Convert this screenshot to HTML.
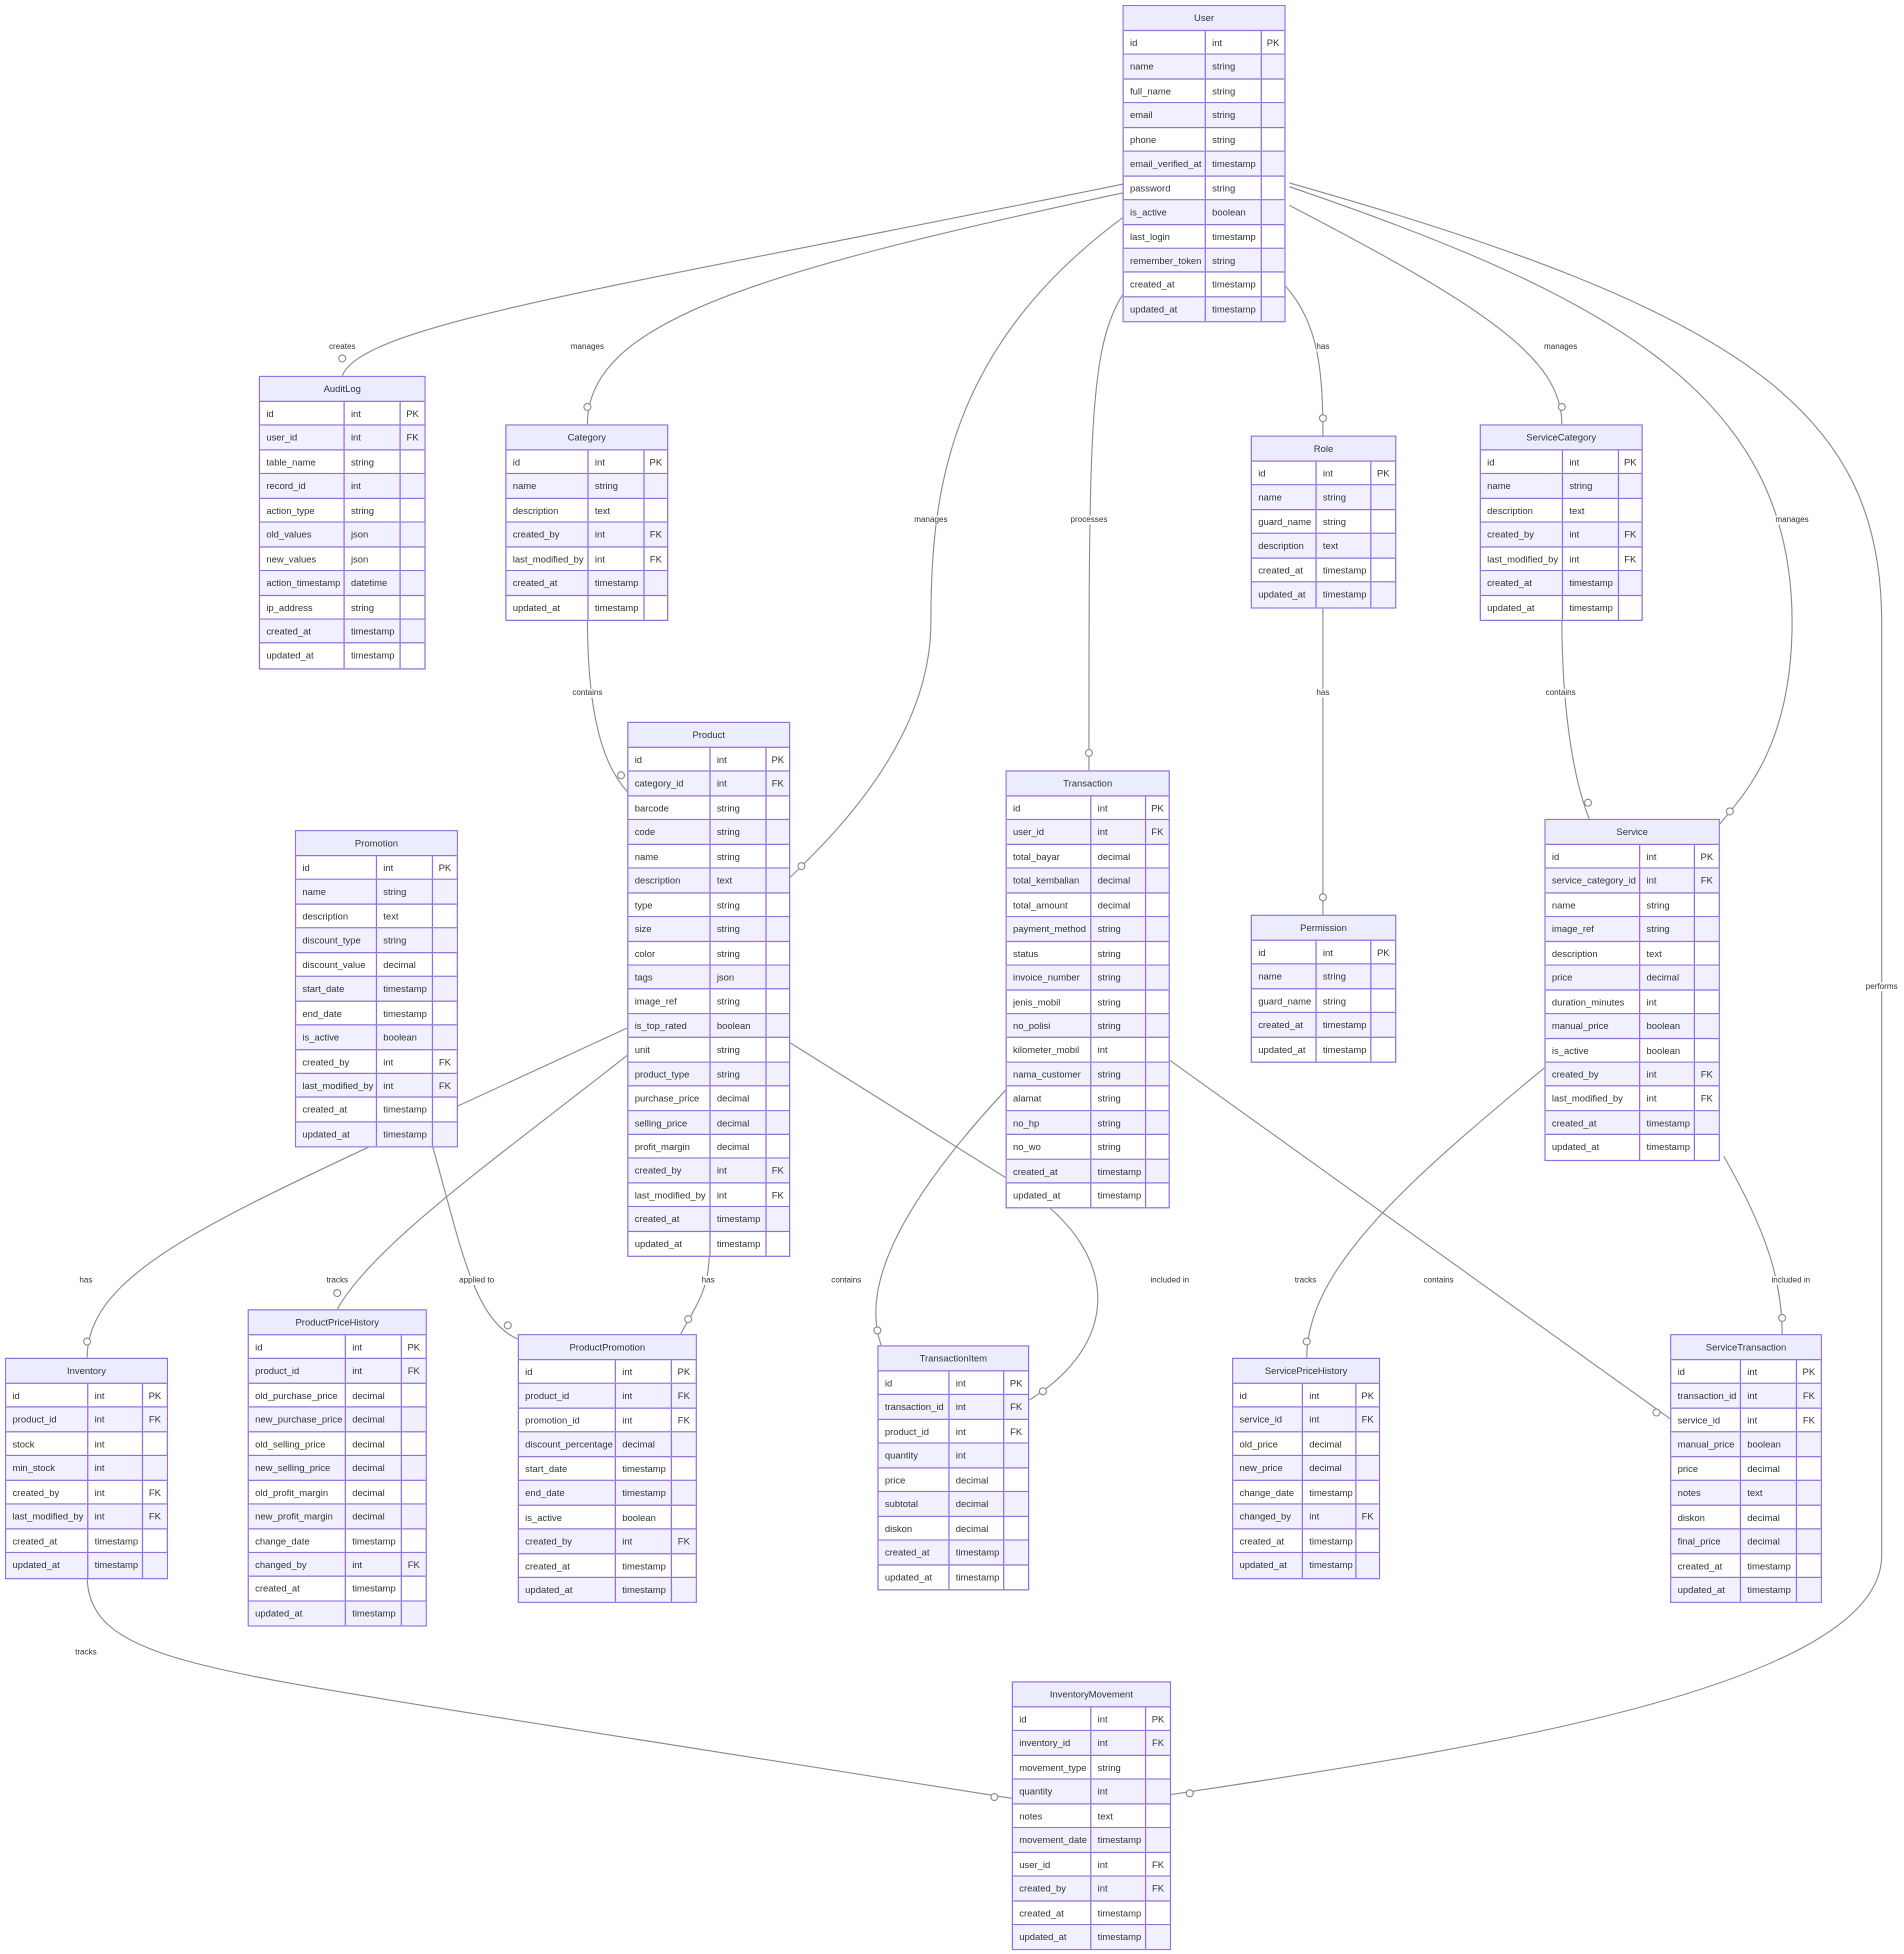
<!DOCTYPE html>
<html><head><meta charset="utf-8"><style>
html,body{margin:0;padding:0;background:#fff;}
body{width:1904px;height:1954px;overflow:hidden;position:relative;}
#w{position:absolute;left:0;top:0;width:1530px;height:1570px;transform:scale(1.2445);transform-origin:0 0;font-family:"Liberation Sans",sans-serif;}
svg{position:absolute;left:0;top:0;}
.t{position:absolute;border:1.2px solid #9370DB;background:#fff;box-sizing:border-box;font-size:7.6px;color:#333;}
.h{height:19px;line-height:19px;text-align:center;background:#ECECFF;border-bottom:1.2px solid #9370DB;}
.r{display:flex;height:19.45px;line-height:19px;box-sizing:border-box;border-bottom:1.2px solid #9370DB;}
.r:last-child{border-bottom:none;}
.r:nth-child(odd){background:#F1F0FF;}
.r span{box-sizing:border-box;padding-left:5px;white-space:nowrap;overflow:hidden;border-right:1.2px solid #9370DB;}
.r span:nth-child(1){width:var(--a);}
.r span:nth-child(2){width:var(--b);}
.r span:nth-child(3){flex:1;border-right:none;padding-left:0;text-align:center;}
.l{position:absolute;font-size:6.5px;color:#333;background:#fff;transform:translate(-50%,-50%);white-space:nowrap;}
</style></head><body><div id="w">
<svg width="1530" height="1570" viewBox="0 0 1530 1570" fill="none" stroke="#8a8a8a" stroke-width="0.9">
<path d="M902,148 C500,230 290,260 275,302"/>
<path d="M902,155 C600,220 472,260 472,341"/>
<path d="M902,175 C760,280 748,400 748,500 C748,600 660,680 635,705"/>
<path d="M902,237 C875,280 875,350 875,619"/>
<path d="M1033,230 C1060,260 1063,300 1063,350"/>
<path d="M1036,165 C1200,250 1255,290 1255,341"/>
<path d="M1036,150 C1300,240 1440,320 1440,500 C1440,600 1400,640 1382,662"/>
<path d="M1036,147 C1400,250 1512,330 1512,500 L1512,1250 C1512,1360 1150,1410 941,1442"/>
<path d="M472,495 C472,560 480,610 504,636"/>
<path d="M1063,486 L1063,735"/>
<path d="M1255,495 C1255,560 1262,620 1277,658"/>
<path d="M504,826 L300,920 C150,990 70,1030 70,1091"/>
<path d="M504,848 C400,930 300,1000 271,1052"/>
<path d="M347,919 C370,1000 380,1060 416,1076"/>
<path d="M570,1006 C570,1040 555,1055 547,1072"/>
<path d="M635,838 L830,960 C900,1010 900,1080 827,1125"/>
<path d="M808,876 C730,960 690,1030 708,1081"/>
<path d="M940,852 L1342,1140"/>
<path d="M1241,858 C1130,950 1050,1020 1050,1091"/>
<path d="M1385,929 C1420,990 1432,1030 1432,1072"/>
<path d="M70,1266 C70,1330 150,1340 400,1380 L813,1445"/>
<g fill="#fff">
<circle cx="275" cy="288" r="2.8"/><circle cx="472" cy="327" r="2.8"/><circle cx="644" cy="696" r="2.8"/>
<circle cx="875" cy="605" r="2.8"/><circle cx="1063" cy="336" r="2.8"/><circle cx="1255" cy="327" r="2.8"/>
<circle cx="1390" cy="652" r="2.8"/><circle cx="956" cy="1441" r="2.8"/><circle cx="499" cy="623" r="2.8"/>
<circle cx="1063" cy="721" r="2.8"/><circle cx="1276" cy="645" r="2.8"/><circle cx="70" cy="1078" r="2.8"/>
<circle cx="271" cy="1039" r="2.8"/><circle cx="408" cy="1065" r="2.8"/><circle cx="553" cy="1060" r="2.8"/>
<circle cx="838" cy="1118" r="2.8"/><circle cx="705" cy="1069" r="2.8"/><circle cx="1331" cy="1135" r="2.8"/>
<circle cx="1050" cy="1078" r="2.8"/><circle cx="1432" cy="1059" r="2.8"/><circle cx="799" cy="1444" r="2.8"/>
</g>
</svg>
<div class="l" style="left:275px;top:279px">creates</div>
<div class="l" style="left:472px;top:279px">manages</div>
<div class="l" style="left:748px;top:418px">manages</div>
<div class="l" style="left:875px;top:418px">processes</div>
<div class="l" style="left:1063px;top:279px">has</div>
<div class="l" style="left:1254px;top:279px">manages</div>
<div class="l" style="left:1440px;top:418px">manages</div>
<div class="l" style="left:1512px;top:793px">performs</div>
<div class="l" style="left:472px;top:557px">contains</div>
<div class="l" style="left:1063px;top:557px">has</div>
<div class="l" style="left:1254px;top:557px">contains</div>
<div class="l" style="left:69px;top:1029px">has</div>
<div class="l" style="left:271px;top:1029px">tracks</div>
<div class="l" style="left:383px;top:1029px">applied to</div>
<div class="l" style="left:569px;top:1029px">has</div>
<div class="l" style="left:680px;top:1029px">contains</div>
<div class="l" style="left:940px;top:1029px">included in</div>
<div class="l" style="left:1156px;top:1029px">contains</div>
<div class="l" style="left:1049px;top:1029px">tracks</div>
<div class="l" style="left:1439px;top:1029px">included in</div>
<div class="l" style="left:69px;top:1328px">tracks</div>

<div class="t" style="left:902px;top:4px;width:131px;--a:66px;--b:45px"><div class="h">User</div>
<div class="r"><span>id</span><span>int</span><span>PK</span></div>
<div class="r"><span>name</span><span>string</span><span></span></div>
<div class="r"><span>full_name</span><span>string</span><span></span></div>
<div class="r"><span>email</span><span>string</span><span></span></div>
<div class="r"><span>phone</span><span>string</span><span></span></div>
<div class="r"><span>email_verified_at</span><span>timestamp</span><span></span></div>
<div class="r"><span>password</span><span>string</span><span></span></div>
<div class="r"><span>is_active</span><span>boolean</span><span></span></div>
<div class="r"><span>last_login</span><span>timestamp</span><span></span></div>
<div class="r"><span>remember_token</span><span>string</span><span></span></div>
<div class="r"><span>created_at</span><span>timestamp</span><span></span></div>
<div class="r"><span>updated_at</span><span>timestamp</span><span></span></div>
</div>

<div class="t" style="left:208px;top:302px;width:134px;--a:68px;--b:45px"><div class="h">AuditLog</div>
<div class="r"><span>id</span><span>int</span><span>PK</span></div>
<div class="r"><span>user_id</span><span>int</span><span>FK</span></div>
<div class="r"><span>table_name</span><span>string</span><span></span></div>
<div class="r"><span>record_id</span><span>int</span><span></span></div>
<div class="r"><span>action_type</span><span>string</span><span></span></div>
<div class="r"><span>old_values</span><span>json</span><span></span></div>
<div class="r"><span>new_values</span><span>json</span><span></span></div>
<div class="r"><span>action_timestamp</span><span>datetime</span><span></span></div>
<div class="r"><span>ip_address</span><span>string</span><span></span></div>
<div class="r"><span>created_at</span><span>timestamp</span><span></span></div>
<div class="r"><span>updated_at</span><span>timestamp</span><span></span></div>
</div>

<div class="t" style="left:406px;top:341px;width:131px;--a:66px;--b:45px"><div class="h">Category</div>
<div class="r"><span>id</span><span>int</span><span>PK</span></div>
<div class="r"><span>name</span><span>string</span><span></span></div>
<div class="r"><span>description</span><span>text</span><span></span></div>
<div class="r"><span>created_by</span><span>int</span><span>FK</span></div>
<div class="r"><span>last_modified_by</span><span>int</span><span>FK</span></div>
<div class="r"><span>created_at</span><span>timestamp</span><span></span></div>
<div class="r"><span>updated_at</span><span>timestamp</span><span></span></div>
</div>

<div class="t" style="left:1005px;top:350px;width:117px;--a:52px;--b:44px"><div class="h">Role</div>
<div class="r"><span>id</span><span>int</span><span>PK</span></div>
<div class="r"><span>name</span><span>string</span><span></span></div>
<div class="r"><span>guard_name</span><span>string</span><span></span></div>
<div class="r"><span>description</span><span>text</span><span></span></div>
<div class="r"><span>created_at</span><span>timestamp</span><span></span></div>
<div class="r"><span>updated_at</span><span>timestamp</span><span></span></div>
</div>

<div class="t" style="left:1189px;top:341px;width:131px;--a:66px;--b:45px"><div class="h">ServiceCategory</div>
<div class="r"><span>id</span><span>int</span><span>PK</span></div>
<div class="r"><span>name</span><span>string</span><span></span></div>
<div class="r"><span>description</span><span>text</span><span></span></div>
<div class="r"><span>created_by</span><span>int</span><span>FK</span></div>
<div class="r"><span>last_modified_by</span><span>int</span><span>FK</span></div>
<div class="r"><span>created_at</span><span>timestamp</span><span></span></div>
<div class="r"><span>updated_at</span><span>timestamp</span><span></span></div>
</div>

<div class="t" style="left:504px;top:580px;width:131px;--a:66px;--b:45px"><div class="h">Product</div>
<div class="r"><span>id</span><span>int</span><span>PK</span></div>
<div class="r"><span>category_id</span><span>int</span><span>FK</span></div>
<div class="r"><span>barcode</span><span>string</span><span></span></div>
<div class="r"><span>code</span><span>string</span><span></span></div>
<div class="r"><span>name</span><span>string</span><span></span></div>
<div class="r"><span>description</span><span>text</span><span></span></div>
<div class="r"><span>type</span><span>string</span><span></span></div>
<div class="r"><span>size</span><span>string</span><span></span></div>
<div class="r"><span>color</span><span>string</span><span></span></div>
<div class="r"><span>tags</span><span>json</span><span></span></div>
<div class="r"><span>image_ref</span><span>string</span><span></span></div>
<div class="r"><span>is_top_rated</span><span>boolean</span><span></span></div>
<div class="r"><span>unit</span><span>string</span><span></span></div>
<div class="r"><span>product_type</span><span>string</span><span></span></div>
<div class="r"><span>purchase_price</span><span>decimal</span><span></span></div>
<div class="r"><span>selling_price</span><span>decimal</span><span></span></div>
<div class="r"><span>profit_margin</span><span>decimal</span><span></span></div>
<div class="r"><span>created_by</span><span>int</span><span>FK</span></div>
<div class="r"><span>last_modified_by</span><span>int</span><span>FK</span></div>
<div class="r"><span>created_at</span><span>timestamp</span><span></span></div>
<div class="r"><span>updated_at</span><span>timestamp</span><span></span></div>
</div>

<div class="t" style="left:808px;top:619px;width:132px;--a:68px;--b:44px"><div class="h">Transaction</div>
<div class="r"><span>id</span><span>int</span><span>PK</span></div>
<div class="r"><span>user_id</span><span>int</span><span>FK</span></div>
<div class="r"><span>total_bayar</span><span>decimal</span><span></span></div>
<div class="r"><span>total_kembalian</span><span>decimal</span><span></span></div>
<div class="r"><span>total_amount</span><span>decimal</span><span></span></div>
<div class="r"><span>payment_method</span><span>string</span><span></span></div>
<div class="r"><span>status</span><span>string</span><span></span></div>
<div class="r"><span>invoice_number</span><span>string</span><span></span></div>
<div class="r"><span>jenis_mobil</span><span>string</span><span></span></div>
<div class="r"><span>no_polisi</span><span>string</span><span></span></div>
<div class="r"><span>kilometer_mobil</span><span>int</span><span></span></div>
<div class="r"><span>nama_customer</span><span>string</span><span></span></div>
<div class="r"><span>alamat</span><span>string</span><span></span></div>
<div class="r"><span>no_hp</span><span>string</span><span></span></div>
<div class="r"><span>no_wo</span><span>string</span><span></span></div>
<div class="r"><span>created_at</span><span>timestamp</span><span></span></div>
<div class="r"><span>updated_at</span><span>timestamp</span><span></span></div>
</div>

<div class="t" style="left:237px;top:667px;width:131px;--a:65px;--b:45px"><div class="h">Promotion</div>
<div class="r"><span>id</span><span>int</span><span>PK</span></div>
<div class="r"><span>name</span><span>string</span><span></span></div>
<div class="r"><span>description</span><span>text</span><span></span></div>
<div class="r"><span>discount_type</span><span>string</span><span></span></div>
<div class="r"><span>discount_value</span><span>decimal</span><span></span></div>
<div class="r"><span>start_date</span><span>timestamp</span><span></span></div>
<div class="r"><span>end_date</span><span>timestamp</span><span></span></div>
<div class="r"><span>is_active</span><span>boolean</span><span></span></div>
<div class="r"><span>created_by</span><span>int</span><span>FK</span></div>
<div class="r"><span>last_modified_by</span><span>int</span><span>FK</span></div>
<div class="r"><span>created_at</span><span>timestamp</span><span></span></div>
<div class="r"><span>updated_at</span><span>timestamp</span><span></span></div>
</div>

<div class="t" style="left:1005px;top:735px;width:117px;--a:52px;--b:44px"><div class="h">Permission</div>
<div class="r"><span>id</span><span>int</span><span>PK</span></div>
<div class="r"><span>name</span><span>string</span><span></span></div>
<div class="r"><span>guard_name</span><span>string</span><span></span></div>
<div class="r"><span>created_at</span><span>timestamp</span><span></span></div>
<div class="r"><span>updated_at</span><span>timestamp</span><span></span></div>
</div>

<div class="t" style="left:1241px;top:658px;width:141px;--a:76px;--b:44px"><div class="h">Service</div>
<div class="r"><span>id</span><span>int</span><span>PK</span></div>
<div class="r"><span>service_category_id</span><span>int</span><span>FK</span></div>
<div class="r"><span>name</span><span>string</span><span></span></div>
<div class="r"><span>image_ref</span><span>string</span><span></span></div>
<div class="r"><span>description</span><span>text</span><span></span></div>
<div class="r"><span>price</span><span>decimal</span><span></span></div>
<div class="r"><span>duration_minutes</span><span>int</span><span></span></div>
<div class="r"><span>manual_price</span><span>boolean</span><span></span></div>
<div class="r"><span>is_active</span><span>boolean</span><span></span></div>
<div class="r"><span>created_by</span><span>int</span><span>FK</span></div>
<div class="r"><span>last_modified_by</span><span>int</span><span>FK</span></div>
<div class="r"><span>created_at</span><span>timestamp</span><span></span></div>
<div class="r"><span>updated_at</span><span>timestamp</span><span></span></div>
</div>

<div class="t" style="left:4px;top:1091px;width:131px;--a:66px;--b:44px"><div class="h">Inventory</div>
<div class="r"><span>id</span><span>int</span><span>PK</span></div>
<div class="r"><span>product_id</span><span>int</span><span>FK</span></div>
<div class="r"><span>stock</span><span>int</span><span></span></div>
<div class="r"><span>min_stock</span><span>int</span><span></span></div>
<div class="r"><span>created_by</span><span>int</span><span>FK</span></div>
<div class="r"><span>last_modified_by</span><span>int</span><span>FK</span></div>
<div class="r"><span>created_at</span><span>timestamp</span><span></span></div>
<div class="r"><span>updated_at</span><span>timestamp</span><span></span></div>
</div>

<div class="t" style="left:199px;top:1052px;width:144px;--a:78px;--b:45px"><div class="h">ProductPriceHistory</div>
<div class="r"><span>id</span><span>int</span><span>PK</span></div>
<div class="r"><span>product_id</span><span>int</span><span>FK</span></div>
<div class="r"><span>old_purchase_price</span><span>decimal</span><span></span></div>
<div class="r"><span>new_purchase_price</span><span>decimal</span><span></span></div>
<div class="r"><span>old_selling_price</span><span>decimal</span><span></span></div>
<div class="r"><span>new_selling_price</span><span>decimal</span><span></span></div>
<div class="r"><span>old_profit_margin</span><span>decimal</span><span></span></div>
<div class="r"><span>new_profit_margin</span><span>decimal</span><span></span></div>
<div class="r"><span>change_date</span><span>timestamp</span><span></span></div>
<div class="r"><span>changed_by</span><span>int</span><span>FK</span></div>
<div class="r"><span>created_at</span><span>timestamp</span><span></span></div>
<div class="r"><span>updated_at</span><span>timestamp</span><span></span></div>
</div>

<div class="t" style="left:416px;top:1072px;width:144px;--a:78px;--b:45px"><div class="h">ProductPromotion</div>
<div class="r"><span>id</span><span>int</span><span>PK</span></div>
<div class="r"><span>product_id</span><span>int</span><span>FK</span></div>
<div class="r"><span>promotion_id</span><span>int</span><span>FK</span></div>
<div class="r"><span>discount_percentage</span><span>decimal</span><span></span></div>
<div class="r"><span>start_date</span><span>timestamp</span><span></span></div>
<div class="r"><span>end_date</span><span>timestamp</span><span></span></div>
<div class="r"><span>is_active</span><span>boolean</span><span></span></div>
<div class="r"><span>created_by</span><span>int</span><span>FK</span></div>
<div class="r"><span>created_at</span><span>timestamp</span><span></span></div>
<div class="r"><span>updated_at</span><span>timestamp</span><span></span></div>
</div>

<div class="t" style="left:705px;top:1081px;width:122px;--a:57px;--b:44px"><div class="h">TransactionItem</div>
<div class="r"><span>id</span><span>int</span><span>PK</span></div>
<div class="r"><span>transaction_id</span><span>int</span><span>FK</span></div>
<div class="r"><span>product_id</span><span>int</span><span>FK</span></div>
<div class="r"><span>quantity</span><span>int</span><span></span></div>
<div class="r"><span>price</span><span>decimal</span><span></span></div>
<div class="r"><span>subtotal</span><span>decimal</span><span></span></div>
<div class="r"><span>diskon</span><span>decimal</span><span></span></div>
<div class="r"><span>created_at</span><span>timestamp</span><span></span></div>
<div class="r"><span>updated_at</span><span>timestamp</span><span></span></div>
</div>

<div class="t" style="left:990px;top:1091px;width:119px;--a:56px;--b:43px"><div class="h">ServicePriceHistory</div>
<div class="r"><span>id</span><span>int</span><span>PK</span></div>
<div class="r"><span>service_id</span><span>int</span><span>FK</span></div>
<div class="r"><span>old_price</span><span>decimal</span><span></span></div>
<div class="r"><span>new_price</span><span>decimal</span><span></span></div>
<div class="r"><span>change_date</span><span>timestamp</span><span></span></div>
<div class="r"><span>changed_by</span><span>int</span><span>FK</span></div>
<div class="r"><span>created_at</span><span>timestamp</span><span></span></div>
<div class="r"><span>updated_at</span><span>timestamp</span><span></span></div>
</div>

<div class="t" style="left:1342px;top:1072px;width:122px;--a:56px;--b:45px"><div class="h">ServiceTransaction</div>
<div class="r"><span>id</span><span>int</span><span>PK</span></div>
<div class="r"><span>transaction_id</span><span>int</span><span>FK</span></div>
<div class="r"><span>service_id</span><span>int</span><span>FK</span></div>
<div class="r"><span>manual_price</span><span>boolean</span><span></span></div>
<div class="r"><span>price</span><span>decimal</span><span></span></div>
<div class="r"><span>notes</span><span>text</span><span></span></div>
<div class="r"><span>diskon</span><span>decimal</span><span></span></div>
<div class="r"><span>final_price</span><span>decimal</span><span></span></div>
<div class="r"><span>created_at</span><span>timestamp</span><span></span></div>
<div class="r"><span>updated_at</span><span>timestamp</span><span></span></div>
</div>

<div class="t" style="left:813px;top:1351px;width:128px;--a:63px;--b:44px"><div class="h">InventoryMovement</div>
<div class="r"><span>id</span><span>int</span><span>PK</span></div>
<div class="r"><span>inventory_id</span><span>int</span><span>FK</span></div>
<div class="r"><span>movement_type</span><span>string</span><span></span></div>
<div class="r"><span>quantity</span><span>int</span><span></span></div>
<div class="r"><span>notes</span><span>text</span><span></span></div>
<div class="r"><span>movement_date</span><span>timestamp</span><span></span></div>
<div class="r"><span>user_id</span><span>int</span><span>FK</span></div>
<div class="r"><span>created_by</span><span>int</span><span>FK</span></div>
<div class="r"><span>created_at</span><span>timestamp</span><span></span></div>
<div class="r"><span>updated_at</span><span>timestamp</span><span></span></div>
</div>
</div></body></html>
